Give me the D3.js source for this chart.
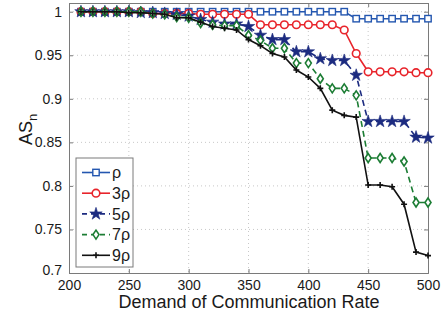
<!DOCTYPE html>
<html>
<head>
<meta charset="utf-8">
<script src="https://cdn.jsdelivr.net/npm/d3@7"></script>
<style>
  body { margin: 0; background: #fff; }
  text { font-family: "Liberation Sans", Arial, sans-serif; fill: #1a1a1a; }
</style>
</head>
<body>
<svg id="chart"></svg>
<script>
// demand of communication rate (x values)
const rates = [210, 220, 230, 240, 250, 260, 270, 280, 290, 300,
               310, 320, 330, 340, 350, 360, 370, 380, 390, 400,
               410, 420, 430, 440, 450, 460, 470, 480, 490, 500];

const rho1 = [1, 1, 1, 1, 1, 1, 1, 1, 1, 1,
              1, 1, 1, 1, 1, 1, 1, 1, 1, 1,
              1, 1, 1, 0.992, 0.992, 0.992, 0.992, 0.992, 0.992, 0.992];
const rho3 = [1, 1, 1, 1, 1, 1, 0.998, 0.998, 0.998, 0.998,
              0.997, 0.997, 0.997, 0.997, 0.997, 0.985, 0.985, 0.985, 0.985, 0.985,
              0.985, 0.985, 0.979, 0.952, 0.931, 0.931, 0.931, 0.931, 0.93, 0.93];
const rho5 = [1, 1, 1, 1, 1, 0.999, 0.999, 0.998, 0.997, 0.995,
              0.991, 0.988, 0.986, 0.986, 0.983, 0.973, 0.968, 0.968, 0.954, 0.954,
              0.946, 0.944, 0.944, 0.927, 0.874, 0.874, 0.874, 0.874, 0.856, 0.855];
const rho7 = [1, 1, 1, 1, 1, 1, 0.998, 0.997, 0.994, 0.993,
              0.987, 0.985, 0.984, 0.984, 0.973, 0.967, 0.958, 0.958, 0.941, 0.941,
              0.923, 0.912, 0.912, 0.904, 0.832, 0.832, 0.832, 0.828, 0.781, 0.781];
const rho9 = [1, 1, 1, 1, 0.999, 0.999, 0.998, 0.997, 0.993, 0.993,
              0.988, 0.983, 0.981, 0.979, 0.968, 0.961, 0.952, 0.948, 0.933, 0.925,
              0.912, 0.887, 0.881, 0.879, 0.801, 0.801, 0.799, 0.779, 0.724, 0.720];

const seriesNames = ["ρ", "3ρ", "5ρ", "7ρ", "9ρ"];
const xTicks = [200, 250, 300, 350, 400, 450, 500];
const yTicks = [0.7, 0.75, 0.8, 0.85, 0.9, 0.95, 1];

const width = 448, height = 320;
const margin = { top: 3, right: 20, bottom: 47, left: 69 };

const svg = d3.select("#chart")
    .attr("width", width)
    .attr("height", height);

const iw = width - margin.left - margin.right;
const ih = height - margin.top - margin.bottom;

const x = d3.scaleLinear().domain([200, 500]).range([0, iw]);
const y = d3.scaleLinear().domain([0.7, 1.01]).range([ih, 0]);

const g = svg.append("g")
    .attr("transform", `translate(${margin.left},${margin.top})`);

// dotted grid
g.selectAll(".vgrid").data(xTicks.slice(1, -1)).enter().append("line")
    .attr("x1", d => x(d)).attr("x2", d => x(d))
    .attr("y1", 0).attr("y2", ih)
    .attr("stroke", "#c8c8c8").attr("stroke-dasharray", "1,3");
g.selectAll(".hgrid").data(yTicks.slice(1)).enter().append("line")
    .attr("x1", 0).attr("x2", iw)
    .attr("y1", d => y(d)).attr("y2", d => y(d))
    .attr("stroke", "#c8c8c8").attr("stroke-dasharray", "1,3");

// axes (MATLAB-like inward ticks)
const axisColor = "#7a7a7a";
const xAxis = g.append("g").attr("transform", `translate(0,${ih})`)
    .call(d3.axisBottom(x).tickValues(xTicks).tickSize(-4).tickPadding(7));
const xTop = g.append("g")
    .call(d3.axisTop(x).tickValues(xTicks).tickSize(-4).tickFormat(""));
const yAxis = g.append("g")
    .call(d3.axisLeft(y).tickValues(yTicks).tickSize(-4).tickPadding(7)
        .tickFormat(d => d === 1 ? "1" : d3.format("")(d)));
const yRight = g.append("g").attr("transform", `translate(${iw},0)`)
    .call(d3.axisRight(y).tickValues(yTicks).tickSize(-4).tickFormat(""));

[xAxis, xTop, yAxis, yRight].forEach(a => {
    a.selectAll("path").attr("stroke", axisColor);
    a.selectAll("line").attr("stroke", axisColor);
    a.selectAll("text").style("font-size", "14px").attr("fill", "#1a1a1a");
});
// MATLAB places the lowest y label slightly overlapping the corner
yAxis.selectAll(".tick").filter(d => d === 0.7).select("text").attr("dy", "0.1em");

// series
const blue = "#2457b0", red = "#e8242b", navy = "#1c2b80", green = "#1c7d34", black = "#111";
const series = [
    { name: seriesNames[0], values: rho1, color: blue, dash: null, marker: "square" },
    { name: seriesNames[1], values: rho3, color: red, dash: null, marker: "circle" },
    { name: seriesNames[2], values: rho5, color: navy, dash: "6,4", marker: "star" },
    { name: seriesNames[3], values: rho7, color: green, dash: "6,4", marker: "diamond" },
    { name: seriesNames[4], values: rho9, color: black, dash: null, marker: "plus" }
];

const line = d3.line().x(d => x(d[0])).y(d => y(d[1]));

function drawMarker(sel, s, cx, cy) {
    if (s.marker === "square") {
        sel.append("rect").attr("x", cx - 3.2).attr("y", cy - 3.2)
            .attr("width", 6.4).attr("height", 6.4)
            .attr("fill", "#fff").attr("stroke", s.color).attr("stroke-width", 1.4);
    } else if (s.marker === "circle") {
        sel.append("circle").attr("cx", cx).attr("cy", cy).attr("r", 3.8)
            .attr("fill", "#fff").attr("stroke", s.color).attr("stroke-width", 1.6);
    } else if (s.marker === "star") {
        sel.append("path").attr("d", d3.symbol(d3.symbolStar, 48)())
            .attr("transform", `translate(${cx},${cy})`)
            .attr("fill", s.color).attr("stroke", s.color).attr("stroke-width", 0.6);
    } else if (s.marker === "diamond") {
        sel.append("path").attr("d", `M0,-4.5L3,0L0,4.5L-3,0Z`)
            .attr("transform", `translate(${cx},${cy})`)
            .attr("fill", "#fff").attr("stroke", s.color).attr("stroke-width", 1.6);
    } else if (s.marker === "plus") {
        sel.append("path").attr("d", "M-3,0H3M0,-3V3")
            .attr("transform", `translate(${cx},${cy})`)
            .attr("stroke", s.color).attr("stroke-width", 1.6);
    }
}

series.forEach(s => {
    const pts = rates.map((r, i) => [r, s.values[i]]);
    const sg = g.append("g");
    sg.append("path").datum(pts)
        .attr("d", line)
        .attr("fill", "none")
        .attr("stroke", s.color)
        .attr("stroke-width", 1.6)
        .attr("stroke-dasharray", s.dash);
    pts.forEach(p => drawMarker(sg, s, x(p[0]), y(p[1])));
});

// axis labels
svg.append("text")
    .attr("x", margin.left + iw / 2 + 0.5)
    .attr("y", 308)
    .attr("text-anchor", "middle")
    .style("font-size", "18px")
    .text("Demand of Communication Rate");

const yl = svg.append("text")
    .attr("transform", `translate(32,${margin.top + y(0.865)}) rotate(-90)`)
    .attr("text-anchor", "middle")
    .style("font-size", "18px");
yl.append("tspan").text("AS");
yl.append("tspan").attr("dy", "0.35em").style("font-size", "13px").text("n");

// legend
const legend = svg.append("g").attr("transform", "translate(76,158)");
legend.append("rect")
    .attr("width", 57).attr("height", 109)
    .attr("fill", "#fff").attr("stroke", axisColor);
series.forEach((s, i) => {
    const ly = 14.5 + i * 20.7;
    const row = legend.append("g");
    row.append("line")
        .attr("x1", 6).attr("x2", 34).attr("y1", ly).attr("y2", ly)
        .attr("stroke", s.color).attr("stroke-width", 1.6)
        .attr("stroke-dasharray", s.dash ? "5,4" : null);
    drawMarker(row, s, 20, ly);
    row.append("text")
        .attr("x", 36).attr("y", ly).attr("dy", "0.36em")
        .style("font-size", "16px")
        .text(s.name);
});
</script>
</body>
</html>
